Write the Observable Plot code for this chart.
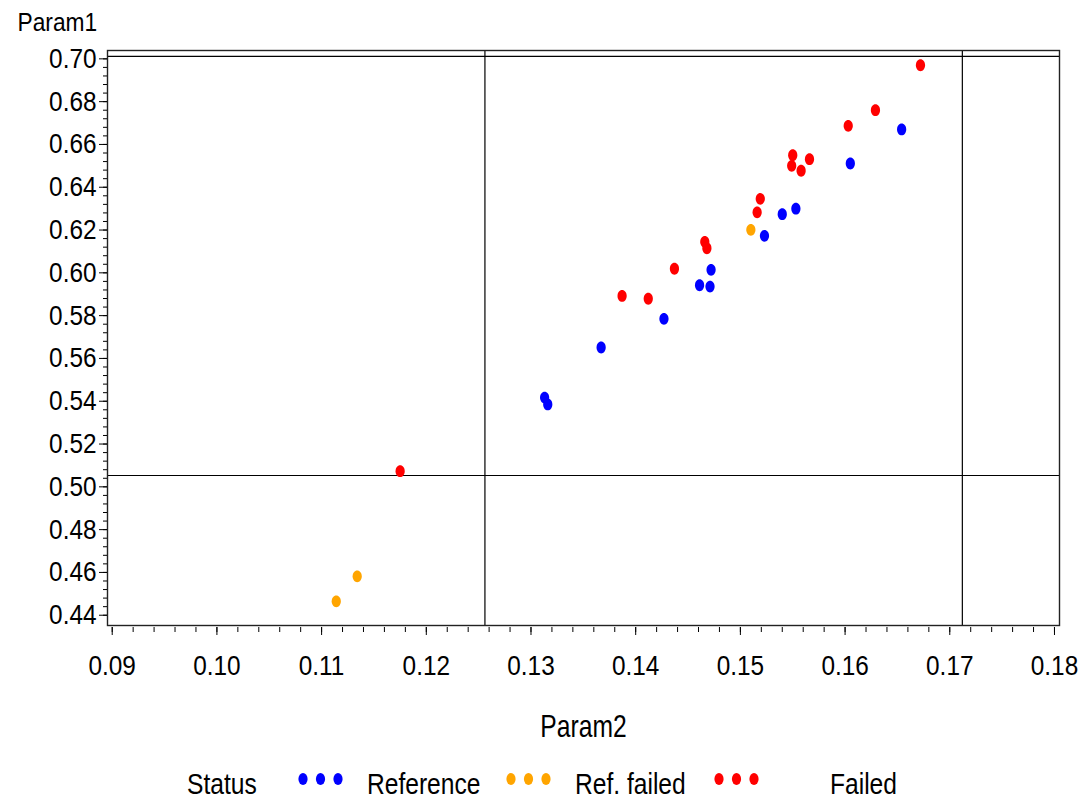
<!DOCTYPE html>
<html>
<head>
<meta charset="utf-8">
<script src="https://cdn.jsdelivr.net/npm/d3@7"></script>
<script src="https://cdn.jsdelivr.net/npm/@observablehq/plot@0.6"></script>
<style>
  html, body { margin: 0; padding: 0; background: #fff; }
  #chart svg { display: block; }
</style>
</head>
<body>
<div id="chart"></div>
<script>
// ---- data ----
const categories = ["Reference", "Ref. failed", "Failed"];
const colors = ["#0000ff", "#ffa500", "#ff0000"];

const referenceParam2 = [0.1654, 0.1605, 0.1553, 0.1540, 0.1523, 0.1472, 0.1461, 0.1471, 0.1427, 0.1367, 0.1313, 0.1316];
const referenceParam1 = [0.6670, 0.6511, 0.6300, 0.6274, 0.6173, 0.6014, 0.5942, 0.5936, 0.5785, 0.5651, 0.5417, 0.5385];

const refFailedParam2 = [0.1510, 0.1134, 0.1114];
const refFailedParam1 = [0.6201, 0.4582, 0.4465];

const failedParam2 = [0.1672, 0.1629, 0.1603, 0.1550, 0.1566, 0.1549, 0.1558, 0.1519, 0.1516, 0.1466, 0.1468, 0.1437, 0.1387, 0.1412, 0.1175];
const failedParam1 = [0.6970, 0.6760, 0.6687, 0.6550, 0.6531, 0.6500, 0.6477, 0.6346, 0.6283, 0.6145, 0.6115, 0.6019, 0.5892, 0.5879, 0.5073];

const xRefLines = [0.1256, 0.1712];
const yRefLines = [0.5053, 0.7012];

const xTicks = [0.09, 0.10, 0.11, 0.12, 0.13, 0.14, 0.15, 0.16, 0.17, 0.18];
const yTicks = [0.44, 0.46, 0.48, 0.50, 0.52, 0.54, 0.56, 0.58, 0.60, 0.62, 0.64, 0.66, 0.68, 0.70];
const xLabel = "Param2";
const yLabel = "Param1";
const legendTitle = "Status";

// ---- build ----
const seriesX = [referenceParam2, refFailedParam2, failedParam2];
const seriesY = [referenceParam1, refFailedParam1, failedParam1];
const points = categories.flatMap((c, i) => seriesX[i].map((x, j) => ({status: c, p2: x, p1: seriesY[i][j]})));

const xMinor = d3.range(0, 46).map(i => +(0.09 + i * 0.002).toFixed(3));
const yMinor = d3.range(0, 66).map(i => +(0.44 + i * 0.004).toFixed(3));

const FONT = '"Liberation Sans", Arial, Helvetica, sans-serif';

const RX = 4.6, RY = 5.9, K = 0.5523;
const ellipse = {
  draw(ctx) {
    ctx.moveTo(RX, 0);
    ctx.bezierCurveTo(RX, K * RY, K * RX, RY, 0, RY);
    ctx.bezierCurveTo(-K * RX, RY, -RX, K * RY, -RX, 0);
    ctx.bezierCurveTo(-RX, -K * RY, -K * RX, -RY, 0, -RY);
    ctx.bezierCurveTo(K * RX, -RY, RX, -K * RY, RX, 0);
    ctx.closePath();
  }
};

const fmt = d3.format(".2f");

const plot = Plot.plot({
  width: 1091,
  height: 755,
  marginTop: 50,
  marginBottom: 130,
  marginLeft: 107,
  marginRight: 32,
  style: {fontFamily: FONT, fontSize: "28px", color: "#000", background: "#fff", overflow: "visible"},
  x: {domain: [0.08955, 0.18048], label: null},
  y: {domain: [0.4352, 0.7039], label: null},
  color: {domain: categories, range: colors},
  marks: [
    Plot.ruleX(xRefLines, {stroke: "#000", strokeWidth: 1.2}),
    Plot.ruleY(yRefLines, {stroke: "#000", strokeWidth: 1.2}),
    Plot.frame({stroke: "#222", strokeWidth: 1.4}),
    Plot.axisX({ticks: xMinor, tickSize: 5, dy: 2, tickFormat: () => null, stroke: "#000"}),
    Plot.axisX({ticks: xTicks, tickSize: 8, tickPadding: 20, dy: 2, tickFormat: fmt, stroke: "#000", fill: "#000", fontSize: 28}),
    Plot.axisY({ticks: yMinor, tickSize: 4, tickFormat: () => null, stroke: "#000"}),
    Plot.axisY({ticks: yTicks, tickSize: 8, tickPadding: 3, tickFormat: fmt, stroke: "#000", fill: "#000", fontSize: 28}),
    Plot.dot(points, {x: "p2", y: "p1", fill: "status", symbol: ellipse, r: 5}),
    Plot.text([yLabel], {text: d => d, frameAnchor: "top-left", textAnchor: "start", lineAnchor: "top", dx: -90, dy: -37, fontSize: 25, fill: "#000"}),
    Plot.text([xLabel], {text: d => d, frameAnchor: "bottom", textAnchor: "middle", lineAnchor: "top", dy: 89, fontSize: 32, fill: "#000"})
  ]
});
document.getElementById("chart").appendChild(plot);

// ---- legend below ----
const leg = d3.select("#chart").append("svg")
  .attr("width", 1091).attr("height", 45)
  .style("font-family", FONT).style("font-size", "30px");
const lg = leg.append("g").attr("aria-label", "legend");
lg.append("text").attr("x", 187).attr("y", 39).text(legendTitle);
const itemDotStart = [303, 511, 719];
const itemLabelX = [367, 575, 830];
categories.forEach((c, i) => {
  for (let k = 0; k < 3; k++) {
    leg.append("ellipse").attr("cx", itemDotStart[i] + k * 17.5).attr("cy", 24)
      .attr("rx", RX).attr("ry", RY).attr("fill", colors[i]);
  }
  lg.append("text").attr("x", itemLabelX[i]).attr("y", 39).text(c);
});

// ---- horizontally condense text to mimic the narrow original font ----
function condenseEl(t, s) {
  const ax = t.hasAttribute("x") ? +t.getAttribute("x") : 0;
  const tr = t.getAttribute("transform") || "";
  t.setAttribute("transform", `${tr} translate(${ax},0) scale(${s},1) translate(${-ax},0)`);
}
function condense(sel, s) {
  document.querySelectorAll(sel).forEach(t => condenseEl(t, s));
}
condense('#chart g[aria-label="x-axis tick label"] text', 0.87);
condense('#chart g[aria-label="y-axis tick label"] text', 0.87);
plot.querySelectorAll("text").forEach(t => {
  if (t.textContent === yLabel) condenseEl(t, 0.91);
  else if (t.textContent === xLabel) condenseEl(t, 0.77);
});
condense('#chart g[aria-label="legend"] text', 0.82);
</script>
</body>
</html>
